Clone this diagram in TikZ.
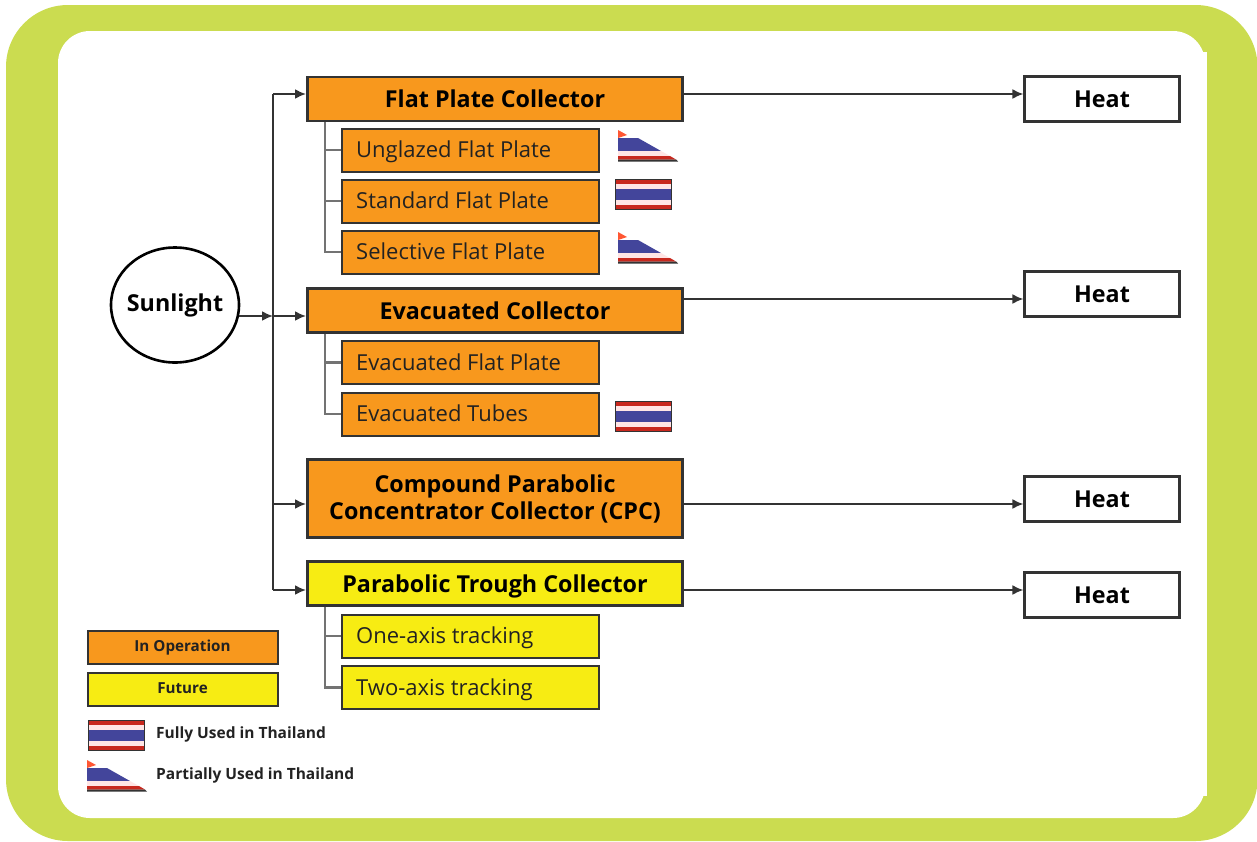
\documentclass[tikz,border=0pt]{standalone}
\usepackage{fontspec}
\setmainfont{Open Sans}
\usetikzlibrary{arrows.meta,shapes.geometric,calc}
\definecolor{lime}{HTML}{CBDC50}
\definecolor{orangebox}{HTML}{F8981D}
\definecolor{yellowbox}{HTML}{F7EC13}
\definecolor{flagred}{HTML}{C8281E}
\definecolor{flagblue}{HTML}{43459B}
\definecolor{edge}{HTML}{333333}
\definecolor{txt}{HTML}{222222}
\tikzset{
  px/.style={x=1pt,y=-1pt},
  basebox/.style={draw=edge,line width=2.6pt,inner sep=0pt,align=center,text=black,font=\fontsize{23.3}{27}\selectfont\bfseries},
  mainorange/.style={basebox,fill=orangebox,minimum width=375.5pt,minimum height=44pt},
  mainyellow/.style={basebox,fill=yellowbox,minimum width=375.5pt,minimum height=44pt},
  suborange/.style={draw=edge,line width=2pt,fill=orangebox,minimum width=257pt,minimum height=43pt,inner sep=0pt},
  subyellow/.style={suborange,fill=yellowbox},
  subtext/.style={anchor=west,inner sep=0pt,yshift=-1.5pt,text=txt,text height=17pt,text depth=5pt,font=\fontsize{22}{27}\selectfont},
  heatbox/.style={basebox,fill=white,minimum width=154.5pt,minimum height=44.5pt},
  legendbox/.style={draw=edge,line width=2pt,minimum width=190pt,minimum height=33pt,inner sep=0pt,text=txt,text height=11pt,text depth=3pt,font=\fontsize{15.2}{17}\selectfont\bfseries},
  legendtext/.style={anchor=west,inner sep=0pt,text=txt,font=\fontsize{15.5}{18}\selectfont\bfseries},
  flow/.style={draw=edge,line width=2pt,-{Latex[length=11pt,width=10pt]}},
  plain/.style={draw=edge,line width=2.2pt},
  tree/.style={draw=black!55,line width=2.2pt},
  fullflag/.pic={
    \fill[edge] (-.5,-.5) rectangle (57,31);
    \fill[flagred] (1,1) rectangle (56,30);
    \fill[white!90!red] (1,5) rectangle (56,26);
    \fill[flagblue] (1,10) rectangle (56,21);
  },
  partflag/.pic={
    \fill[red!65!orange!80!white] (0,0) -- (9,5) -- (0,8) -- cycle;
    \fill[flagblue] (0,8) -- (20,8) -- (43,21) -- (0,21) -- cycle;
    \fill[white!90!red] (0,21) -- (43,21) -- (52,26) -- (0,26) -- cycle;
    \fill[flagred] (0,26) -- (52,26) -- (58,29.5) -- (0,29.5) -- cycle;
    \fill[edge] (0,29.5) -- (58,29.5) -- (60,31.5) -- (0,31.5) -- cycle;
  }
}
\begin{document}
\begin{tikzpicture}[px]
\useasboundingbox (0,0) rectangle (1257,841);
\fill[white] (0,0) rectangle (1257,841);
\fill[lime,rounded corners=62pt] (6,5) rectangle (1257.5,841);
\fill[white,rounded corners=32pt] (58,31) rectangle (1205,818);
\fill[white] (1200,52) rectangle (1207,796);

% nodes
\node[draw=black,line width=2.6pt,fill=white,ellipse,minimum width=128pt,minimum height=115pt,inner sep=0pt,font=\fontsize{23.3}{27}\selectfont\bfseries] (sun) at (175,305) {\makebox[0pt]{Sunlight}};

\node[mainorange] (flat) at (495,99) {Flat Plate Collector};
\node[suborange] (s1) at (470,150) {};
\node[suborange] (s2) at (470,201) {};
\node[suborange] (s3) at (470,252) {};
\node[subtext] (s1t) at (356,150) {Unglazed Flat Plate};
\node[subtext] (s2t) at (356,201) {Standard Flat Plate};
\node[subtext] (s3t) at (356,252) {Selective Flat Plate};

\node[mainorange] (evac) at (495,310.5) {Evacuated Collector};
\node[suborange] (e1) at (470,362.5) {};
\node[suborange] (e2) at (470,414) {};
\node[subtext] (e1t) at (356,362.5) {Evacuated Flat Plate};
\node[subtext] (e2t) at (356,414) {Evacuated Tubes};

\node[mainorange,minimum height=78pt] (cpc) at (495,498.5) {Compound Parabolic\\Concentrator Collector (CPC)};

\node[mainyellow,text depth=0pt] (trough) at (495,583.5) {Parabolic Trough Collector};
\node[subyellow] (t1) at (470,636) {};
\node[subyellow] (t2) at (470,687.5) {};
\node[subtext] (t1t) at (356,636) {One-axis tracking};
\node[subtext] (t2t) at (356,687.5) {Two-axis tracking};

\node[heatbox] (h1) at (1102,99) {Heat};
\node[heatbox] (h2) at (1102,294) {Heat};
\node[heatbox] (h3) at (1102,499) {Heat};
\node[heatbox] (h4) at (1102,595) {Heat};

\node[legendbox,fill=orangebox] (lop) at (182.5,647) {In Operation};
\node[legendbox,fill=yellowbox] (lfu) at (182.5,689.5) {Future};
\node[legendtext] (lfull) at (156,734) {Fully Used in Thailand};
\node[legendtext] (lpart) at (156,775) {Partially Used in Thailand};

% connectors
\coordinate (j) at (273,316);
\coordinate (sunout) at (239,316);
\coordinate (flatin) at (306,94);
\coordinate (evacin) at (306,316);
\coordinate (cpcin) at (306,504);
\coordinate (troughin) at (306,590);
\draw[plain] (j |- flatin) -- (j |- troughin);
\draw[flow] (sunout) -- (j);
\draw[flow] (j) -- (evacin);
\draw[flow] (j |- flatin) -- (flatin);
\draw[flow] (j |- cpcin) -- (cpcin);
\draw[flow] (j |- troughin) -- (troughin);

\draw[flow] (684,94) -- (h1.west |- 684,94);
\draw[flow] (684,299) -- (h2.west |- 684,299);
\draw[flow] (684,504) -- (h3.west |- 684,504);
\draw[flow] (684,590) -- (h4.west |- 684,590);

\draw[tree] (flat.south -| 325,0) -- (325,252) -- (s3.west);
\draw[tree] (325,150) -- (s1.west);
\draw[tree] (325,201) -- (s2.west);
\draw[tree] (evac.south -| 325,0) -- (325,414) -- (e2.west);
\draw[tree] (325,362.5) -- (e1.west);
\draw[tree] (trough.south -| 325,0) -- (325,687.5) -- (t2.west);
\draw[tree] (325,636) -- (t1.west);

% flags
\pic at (618,130) {partflag};
\pic at (615,179) {fullflag};
\pic at (618,232) {partflag};
\pic at (615,401) {fullflag};
\pic at (88,720) {fullflag};
\pic at (87,760) {partflag};
\end{tikzpicture}
\end{document}
